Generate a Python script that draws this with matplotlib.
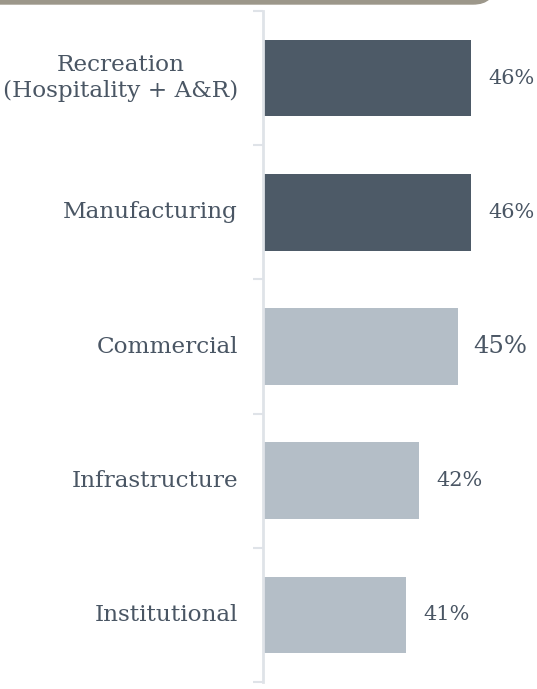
import matplotlib
matplotlib.use("Agg")
import matplotlib.pyplot as plt
from matplotlib.patches import FancyBboxPatch
from matplotlib.transforms import IdentityTransform

# Data
categories = ['Recreation\n(Hospitality + A&R)', 'Manufacturing', 'Commercial',
              'Infrastructure', 'Institutional']
values = [46, 46, 45, 42, 41]
labels = ['46%', '46%', '45%', '42%', '41%']
highlight = [True, True, False, False, False]

dark = '#4d5a67'
light = '#b4bec7'
text_col = '#4a5664'
axis_col = '#dfe3e8'

plt.rcParams['font.family'] = ['DejaVu Serif']

fig = plt.figure(figsize=(5.37, 6.89), dpi=100)
ax = fig.add_axes([263 / 537, 7 / 689, 274 / 537, 671 / 689])

y = list(range(len(categories)))
colors = [dark if h else light for h in highlight]
ax.barh(y, [v - 30 for v in values], left=30, height=0.57, color=colors)

ax.set_xlim(30, 51.1)
ax.set_ylim(4.5, -0.5)

# value labels
for yi, v, lab in zip(y, values, labels):
    size = 17.5 if lab == '45%' else 15
    off = 15 if lab == '45%' else 18
    ax.annotate(lab, xy=(v, yi), xytext=(off, 0), textcoords='offset pixels',
                va='center', ha='left', fontsize=size, color=text_col)

# category labels
for yi, cat in zip(y, categories):
    ax.annotate(cat, xy=(0, yi), xycoords=ax.get_yaxis_transform(),
                xytext=(-25, 0), textcoords='offset pixels', va='center', ha='right',
                multialignment='center', fontsize=16.7, color=text_col, linespacing=1.2)

ax.set_yticks([i - 0.5 for i in range(len(categories) + 1)])
ax.set_yticklabels([])
ax.tick_params(axis='y', length=7, width=1.5, color=axis_col)
ax.set_xticks([])
for s in ['top', 'right', 'bottom']:
    ax.spines[s].set_visible(False)
ax.spines['left'].set_color(axis_col)
ax.spines['left'].set_linewidth(2)

# header band at the top
band = FancyBboxPatch((-30, 685), 525, 40, boxstyle='round,pad=0,rounding_size=22',
                      transform=IdentityTransform(), color='#9c978a', clip_on=False)
fig.patches.append(band)

fig.savefig('out.png', dpi=100)
